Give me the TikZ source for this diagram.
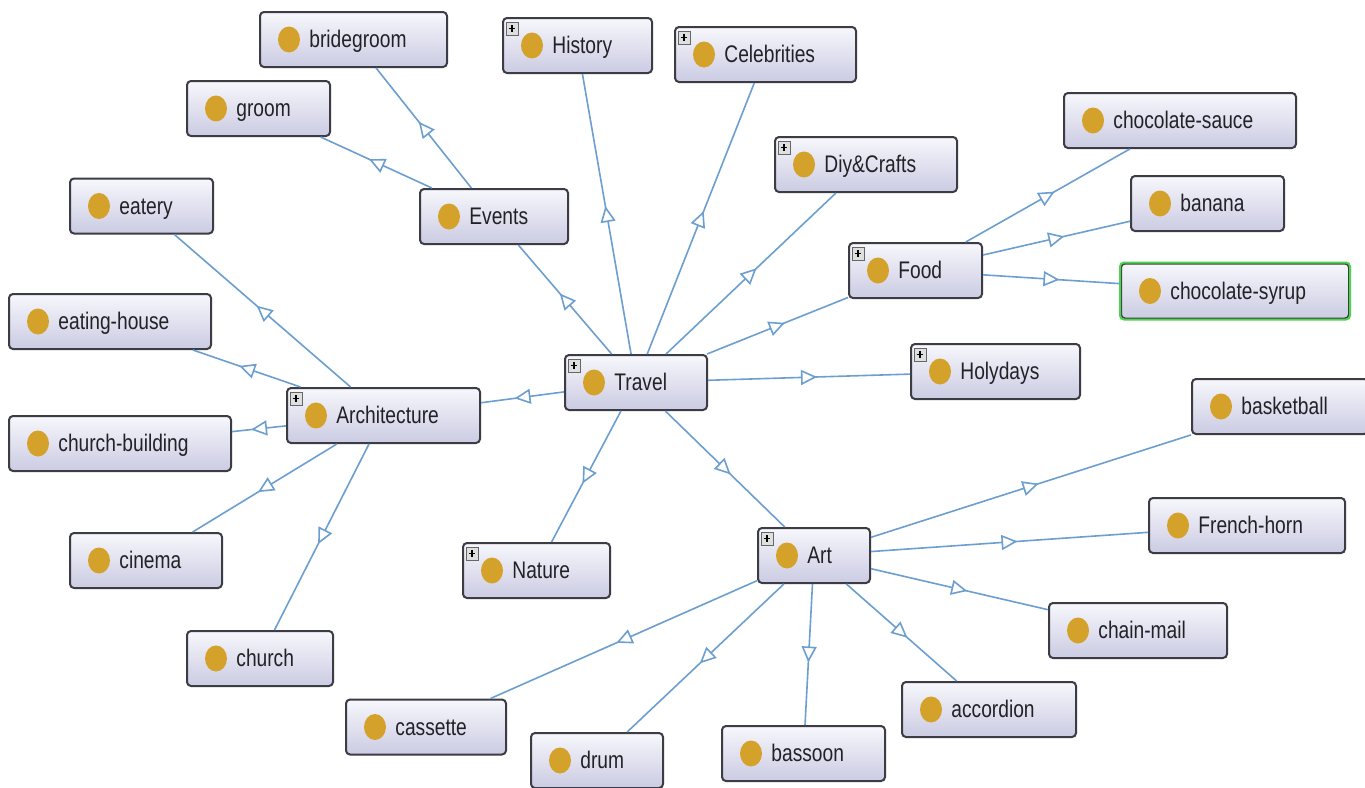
\documentclass[tikz,border=0pt]{standalone}
\usepackage{fontspec}
\setmainfont{Liberation Sans}[FakeStretch=0.8]
\usetikzlibrary{arrows.meta,decorations.markings}

\definecolor{edgeblue}{HTML}{6C9FCF}
\definecolor{boxborder}{HTML}{3C3C44}
\definecolor{boxtop}{HTML}{F7F7FC}
\definecolor{boxbottom}{HTML}{CBCBE3}
\definecolor{dotgold}{HTML}{D4A12A}
\definecolor{selgreen}{HTML}{4CD44C}
\definecolor{labelgray}{HTML}{222226}

\tikzset{
  classbox/.style={rectangle, rounded corners=2pt, draw=boxborder, line width=1pt,
    top color=boxtop, bottom color=boxbottom, minimum height=27.5pt, inner sep=0pt},
  classdot/.style={fill=dotgold},
  classtext/.style={anchor=base west, inner sep=0pt, text=labelgray, font=\fontsize{12pt}{14pt}\selectfont},
  plusbox/.style={draw=gray!80!black, fill=gray!25, line width=0.4pt},
  isa/.style={draw=edgeblue, line width=0.8pt, postaction={decorate},
    decoration={markings, mark=at position 0.5 with {%
      \begin{scope}[xshift=4pt]\arrow{Triangle[open, length=8pt, width=7.5pt, fill=white]}\end{scope}}}},
}

% a class box: name, x, y, width (px), label
\newcommand\klass[5]{%
  \node[classbox, minimum width=#4*0.5pt] (#1) at (#2,#3) {};
  \fill[classdot] ([xshift=15pt]#1.west) ellipse [x radius=5.5pt, y radius=6.5pt];
  \node[classtext] at ([xshift=25pt,yshift=-4pt]#1.west) {#5};
}
% the small expand marker in the upper left corner of a class box
\newcommand\expander[1]{%
  \draw[plusbox] ([xshift=2pt,yshift=-2.5pt]#1.north west) rectangle ++(6pt,-6.5pt);
  \draw[line width=0.7pt, black] ([xshift=3.3pt,yshift=-5.75pt]#1.north west) -- ++(3.4pt,0);
  \draw[line width=0.7pt, black] ([xshift=5pt,yshift=-4.1pt]#1.north west) -- ++(0,-3.3pt);
}

\begin{document}
\begin{tikzpicture}[x=0.5pt, y=-0.5pt]
\useasboundingbox (0,0) rectangle (1365,787);
\clip (0,0) rectangle (1365,787);
\fill[white] (0,0) rectangle (1365,787);

% classes
\klass{bridegroom}{353.5}{39.5}{187}{bridegroom}
\klass{history}{577.5}{45.5}{149}{History}
\klass{celebrities}{765.5}{54.5}{181}{Celebrities}
\klass{groom}{258.5}{108.5}{143}{groom}
\klass{chocsauce}{1180}{120.5}{232}{chocolate-sauce}
\klass{diy}{866}{164.5}{182}{Diy\&Crafts}
\klass{eatery}{141.5}{206}{143}{eatery}
\klass{events}{494}{216.5}{148}{Events}
\klass{banana}{1207.5}{203.5}{153}{banana}
\klass{food}{915.5}{270.5}{133}{Food}
\klass{chocsyrup}{1235}{291}{228}{chocolate-syrup}
\klass{eatinghouse}{110}{321.5}{202}{eating-house}
\klass{travel}{636}{382.5}{142}{Travel}
\klass{holydays}{995.5}{371.5}{169}{Holydays}
\klass{architecture}{383.5}{415.5}{193}{Architecture}
\klass{churchbuilding}{120}{443.5}{222}{church-building}
\klass{basketball}{1280}{406.5}{176}{basketball}
\klass{art}{814}{555.5}{112}{Art}
\klass{frenchhorn}{1247}{525.5}{196}{French-horn}
\klass{nature}{536.5}{570.5}{147}{Nature}
\klass{cinema}{146}{560.5}{152}{cinema}
\klass{chainmail}{1138}{630.5}{178}{chain-mail}
\klass{church}{260}{658.5}{146}{church}
\klass{accordion}{989}{709.5}{174}{accordion}
\klass{cassette}{426}{727}{160}{cassette}
\klass{bassoon}{803.5}{753.5}{163}{bassoon}
\klass{drum}{597}{760.5}{132}{drum}

% the selected class has a green outline
\draw[selgreen, line width=1pt, rounded corners=2pt] (chocsyrup.north west) rectangle (chocsyrup.south east);

% expandable classes
\foreach \c in {history,celebrities,diy,food,travel,holydays,architecture,art,nature}
  \expander{\c};

% subclass links
\foreach \a/\b in {travel/history, travel/celebrities, travel/diy, travel/food,
    travel/holydays, travel/art, travel/nature, travel/architecture, travel/events,
    events/groom, events/bridegroom,
    food/chocsauce, food/banana, food/chocsyrup,
    architecture/eatery, architecture/eatinghouse, architecture/churchbuilding,
    architecture/cinema, architecture/church,
    art/basketball, art/frenchhorn, art/chainmail, art/accordion, art/bassoon,
    art/drum, art/cassette}
  \draw[isa] (\a) -- (\b);
\end{tikzpicture}
\end{document}
